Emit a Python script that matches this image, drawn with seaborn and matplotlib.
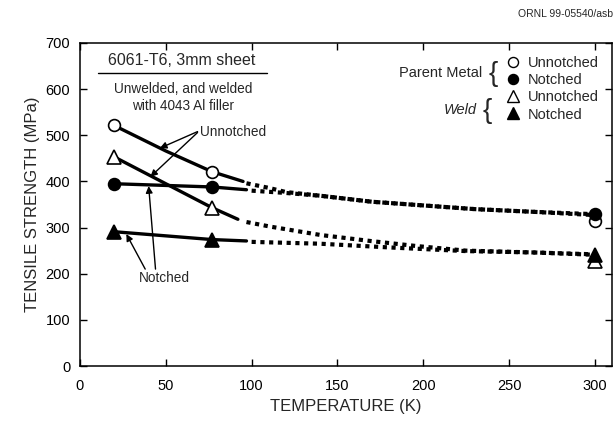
import matplotlib
matplotlib.use("Agg")
import matplotlib.pyplot as plt
import seaborn as sns
import pandas as pd
from matplotlib.lines import Line2D

# ---- data ----
temps_pts = [20, 77, 300]
parent_unnotched = [523, 421, 315]
parent_notched = [395, 388, 330]
weld_unnotched = [453, 343, 228]
weld_notched = [291, 274, 241]

# trend curves (solid = measured range, dotted = extrapolation)
pu_solid_T = [20, 50, 77, 95]
pu_solid_S = [521, 466, 421, 400]
pu_dot_T = [97, 110, 120, 140, 170, 200, 230, 265, 300]
pu_dot_S = [396, 386, 377, 369, 356, 348, 340, 334, 327]

pn_solid_T = [20, 77, 97]
pn_solid_S = [395, 388, 382]
pn_dot_T = [100, 120, 140, 170, 200, 230, 265, 300]
pn_dot_S = [380, 375, 369, 356, 348, 340, 334, 329]

wu_solid_T = [20, 50, 77, 92]
wu_solid_S = [453, 395, 343, 318]
wu_dot_T = [97, 111, 140, 169, 196, 225, 265, 300]
wu_dot_S = [312, 302, 284, 271, 260, 250, 246, 241]

wn_solid_T = [20, 77, 97]
wn_solid_S = [291, 274, 271]
wn_dot_T = [100, 140, 180, 225, 265, 300]
wn_dot_S = [269, 265, 257, 249, 246, 242]

x_ticks = [0, 50, 100, 150, 200, 250, 300]
y_ticks = [0, 100, 200, 300, 400, 500, 600, 700]

sns.set_style("ticks")
plt.rcParams['font.family'] = ['Liberation Sans', 'DejaVu Sans']

fig = plt.figure(figsize=(6.14, 4.22), dpi=100)
ax = fig.add_axes([80/614, 1-366/422, 532/614, 323/422])

solid_kw = dict(color="black", linewidth=2.4, estimator=None, sort=False, legend=False)
dot_kw = dict(color="black", linewidth=3.0, estimator=None, sort=False, legend=False)

for T, S in [(pu_solid_T, pu_solid_S), (pn_solid_T, pn_solid_S),
             (wu_solid_T, wu_solid_S), (wn_solid_T, wn_solid_S)]:
    sns.lineplot(x=T, y=S, ax=ax, **solid_kw)
for T, S in [(pu_dot_T, pu_dot_S), (pn_dot_T, pn_dot_S),
             (wu_dot_T, wu_dot_S), (wn_dot_T, wn_dot_S)]:
    sns.lineplot(x=T, y=S, ax=ax, **dot_kw)
for ln in ax.lines[4:8]:
    ln.set_dashes([1.0, 1.1])
    ln.set_dash_capstyle("butt")

series = [
    (parent_unnotched, "o", "white", 8.5, "Unnotched"),
    (parent_notched, "o", "black", 8.5, "Notched"),
    (weld_unnotched, "^", "white", 10.5, "Unnotched"),
    (weld_notched, "^", "black", 10.5, "Notched"),
]
handles = []
for vals, m, fc, ms, lab in series:
    h, = ax.plot(temps_pts, vals, linestyle="none", marker=m, markerfacecolor=fc,
                 markeredgecolor="black", markeredgewidth=1.2, markersize=ms,
                 zorder=5)
    handles.append(Line2D([], [], linestyle="none", marker=m, markerfacecolor=fc,
                          markeredgecolor="black", markeredgewidth=1.0,
                          markersize=ms*0.85))

leg = ax.legend(handles, [s[4] for s in series], loc="upper right",
                bbox_to_anchor=(0.975, 0.96), frameon=False, fontsize=10.5,
                handlelength=1.0, handletextpad=0.5, labelspacing=0.22,
                borderpad=0, borderaxespad=0)

ax.set_xlim(0, 310)
ax.set_ylim(0, 700)
ax.set_xticks(x_ticks)
ax.set_yticks(y_ticks)
ax.tick_params(direction="in", length=5, width=1, top=True, right=True,
               labelsize=10.5, colors="black", pad=7)
ax.tick_params(axis="x", pad=9)
for sp in ax.spines.values():
    sp.set_visible(True)
    sp.set_linewidth(1.1)
    sp.set_color("black")

ax.set_xlabel("TEMPERATURE (K)", fontsize=12, labelpad=5)
ax.set_ylabel("TENSILE STRENGTH (MPa)", fontsize=12, labelpad=4)

# text annotations
ax.text(59, 661, "6061-T6, 3mm sheet", fontsize=11.5, ha="center", va="center")
ax.plot([10.5, 109], [636, 636], color="black", linewidth=1.0, clip_on=False)
ax.text(60, 601, "Unwelded, and welded", fontsize=9.8, ha="center", va="center")
ax.text(60, 563, "with 4043 Al filler", fontsize=9.8, ha="center", va="center")
ax.text(70, 508, "Unnotched", fontsize=9.8, ha="left", va="center")
ax.text(49, 191, "Notched", fontsize=9.8, ha="center", va="center")

arrow = dict(arrowstyle="-|>", color="black", lw=1.0, mutation_scale=10,
             shrinkA=0, shrinkB=0)
ax.annotate("", xy=(46.5, 472), xytext=(68.5, 508), arrowprops=arrow)
ax.annotate("", xy=(41, 410), xytext=(68.5, 506), arrowprops=arrow)
ax.annotate("", xy=(40, 390), xytext=(44, 210), arrowprops=arrow)
ax.annotate("", xy=(27, 286), xytext=(38, 210), arrowprops=arrow)

# legend group labels
fig.text(482/614, 1-73/422, "Parent Metal", fontsize=10.5, ha="right", va="center")
fig.text(493/614, 1-74/422, "{", fontsize=20, ha="center", va="center")
fig.text(477/614, 1-110/422, "Weld", fontsize=10.5, ha="right", va="center",
         style="italic")
fig.text(487/614, 1-111/422, "{", fontsize=20, ha="center", va="center")

fig.text(613/614, 1-14/422, "ORNL 99-05540/asb", fontsize=7.5, ha="right",
         va="center")

fig.savefig("out.png", dpi=100)
